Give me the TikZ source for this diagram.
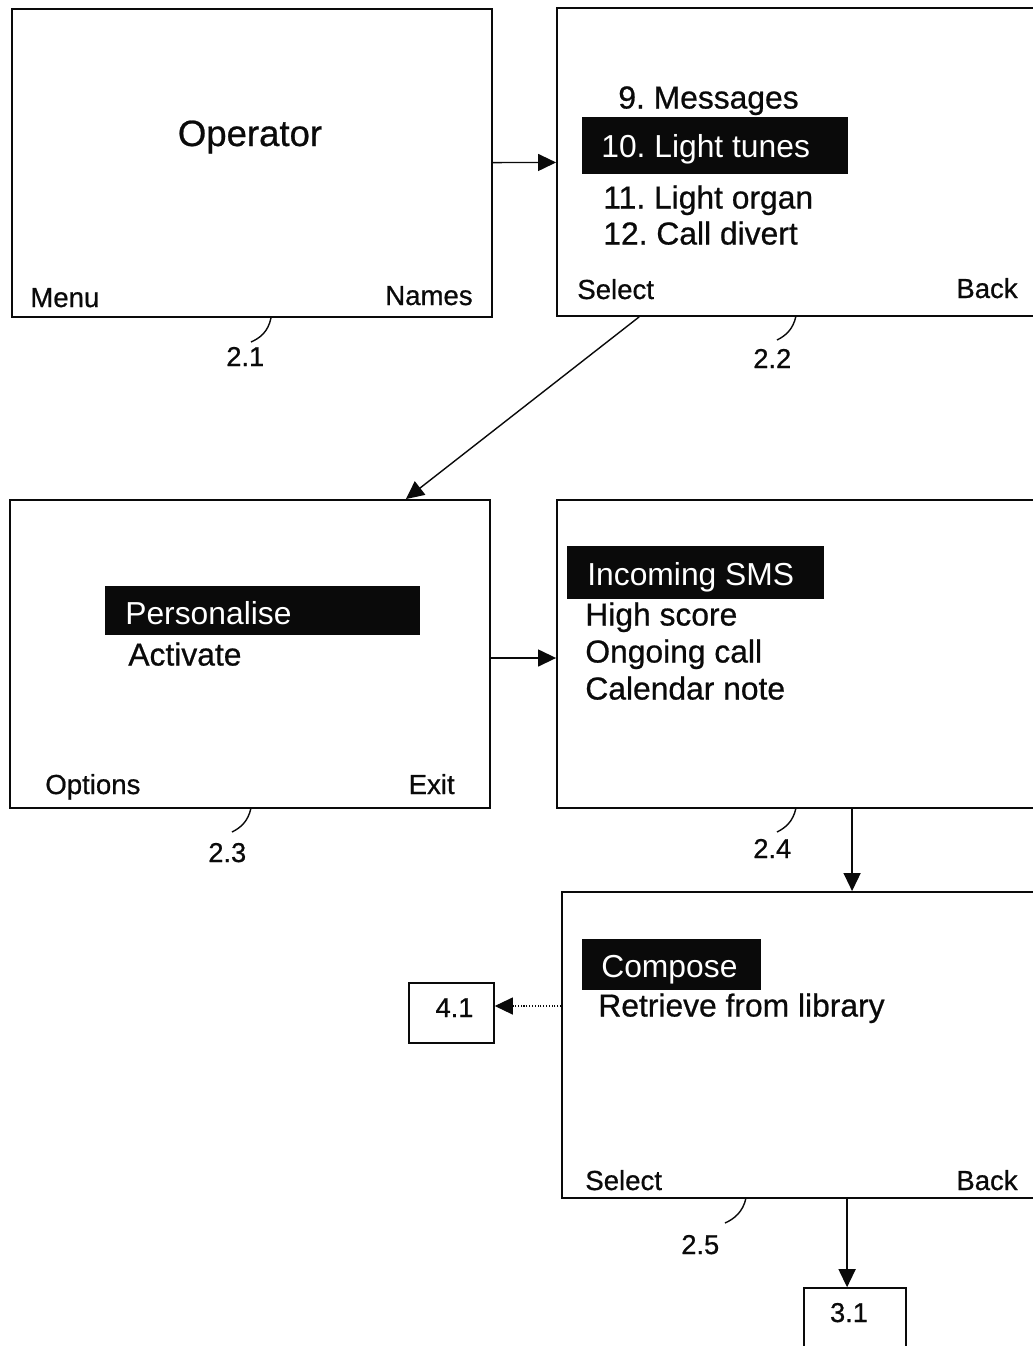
\documentclass[tikz,border=0pt]{standalone}
\usepackage{fontspec}
\setmainfont{Liberation Sans}
\newfontfamily\inkfont{Liberation Sans}[FakeBold=0.7]
\usetikzlibrary{arrows.meta,calc}
\definecolor{ink}{RGB}{10,10,10}

\tikzset{
  screen/.style={draw=ink,line width=1.1pt,minimum width=#1,minimum height=6.16cm,inner sep=0pt},
  tagbox/.style={draw=ink,line width=0.9pt,inner sep=0pt},
  arr/.style={-{Triangle[length=3.6mm,width=3.4mm]},draw=ink,line width=0.8pt},
  leader/.style={draw=ink,line width=0.8pt},
  menutxt/.style={anchor=base west,inner sep=0pt,text=ink,font=\inkfont\fontsize{18.1}{21}\selectfont},
  hitxt/.style={anchor=base west,inner sep=0pt,text=white,font=\fontsize{18.1}{21}\selectfont},
  softkey/.style={inner sep=0pt,text=ink,font=\inkfont\fontsize{15.7}{18}\selectfont},
  tag/.style={anchor=base west,inner sep=0pt,text=ink,font=\inkfont\fontsize{15.5}{18}\selectfont}
}

\begin{document}
\frenchspacing
\begin{tikzpicture}[x=0.02cm,y=-0.02cm]
  \useasboundingbox (0,0) rectangle (1032,1346);

  % --- phone screens ---
  \node[screen=9.6cm] (s21) at (252,163) {};
  \node[screen=9.76cm] (s22) at (801,162) {};
  \node[screen=9.6cm] (s23) at (250,654) {};
  \node[screen=9.76cm] (s24) at (801,654) {};
  \node[screen=9.66cm,minimum height=6.12cm] (s25) at (803.5,1045) {};

  % --- reference boxes ---
  \node[tagbox,minimum width=1.7cm,minimum height=1.2cm] (b41) at (451.5,1013) {};
  \node[tagbox,minimum width=2.04cm,minimum height=1.44cm] (b31) at (855,1324) {};

  % --- screen 2.1 ---
  \node[anchor=base,inner sep=0pt,text=ink,font=\inkfont\fontsize{20.8}{24}\selectfont] (op) at (250,146) {Operator};
  \node[softkey,anchor=base west] (menu) at (30,307) {Menu};
  \node[softkey,anchor=base east] (names) at (473,305) {Names};

  % --- screen 2.2 ---
  \fill[ink] (582,117) rectangle (848,174);
  \node[menutxt] (m9) at (618,108.5) {9. Messages};
  \node[hitxt] (m10) at (601,157.5) {10. Light tunes};
  \node[menutxt] (m11) at (603,208.5) {11. Light organ};
  \node[menutxt] (m12) at (603,244.5) {12. Call divert};
  \node[softkey,anchor=base west] (sel22) at (577,299) {Select};
  \node[softkey,anchor=base east] (back22) at (1018,298) {Back};

  % --- screen 2.3 ---
  \fill[ink] (105,586) rectangle (420,635);
  \node[hitxt] (pers) at (125,624.5) {Personalise};
  \node[menutxt] (act) at (128,665.5) {Activate};
  \node[softkey,anchor=base west] (opt) at (45,794) {Options};
  \node[softkey,anchor=base east] (exit) at (455,794) {Exit};

  % --- screen 2.4 ---
  \fill[ink] (567,546) rectangle (824,599);
  \node[hitxt] (sms) at (587,585.5) {Incoming SMS};
  \node[menutxt] (score) at (585,625.5) {High score};
  \node[menutxt] (ongo) at (585,662.5) {Ongoing call};
  \node[menutxt] (cal) at (585,699.5) {Calendar note};

  % --- screen 2.5 ---
  \fill[ink] (582,939) rectangle (761,990);
  \node[hitxt] (comp) at (601,977.5) {Compose};
  \node[menutxt] (retr) at (598,1016.5) {Retrieve from library};
  \node[softkey,anchor=base west] (sel25) at (585,1190) {Select};
  \node[softkey,anchor=base east] (back25) at (1018,1190) {Back};

  % --- box labels ---
  \node[anchor=base,inner sep=0pt,text=ink,font=\inkfont\fontsize{15.5}{18}\selectfont] (l41) at ($(b41)+(3,4)$) {4.1};
  \node[anchor=base,inner sep=0pt,text=ink,font=\inkfont\fontsize{15.5}{18}\selectfont] (l31) at ($(b31)+(-6,-2)$) {3.1};

  % --- screen tags with leaders ---
  \node[tag] (t21) at (226,366) {2.1};
  \node[tag] (t22) at (753,368) {2.2};
  \node[tag] (t23) at (208,862) {2.3};
  \node[tag] (t24) at (753,858) {2.4};
  \node[tag] (t25) at (681,1254) {2.5};
  \draw[leader] (271,318) .. controls (268,332) and (260,338) .. (251,342);
  \draw[leader] (796,316) .. controls (793,330) and (785,336) .. (777,340);
  \draw[leader] (251,808) .. controls (248,822) and (240,828) .. (232,832);
  \draw[leader] (796,808) .. controls (793,822) and (785,828) .. (777,832);
  \draw[leader] (746,1198) .. controls (743,1212) and (734,1219) .. (725,1223);

  % --- flow arrows ---
  \draw[arr] (s21) -- (s22);
  \draw[arr] ($(s22.south west)+(83,0)$) -- ($(s23.north east)+(-85,0)$);
  \draw[arr] ($(s23.east)+(0,4)$) -- ($(s24.west)+(0,4)$);
  \draw[arr] ($(s24.south west)+(296,0)$) coordinate (d24) -- (d24 |- s25.north);
  \draw[arr,line width=0.6pt,densely dotted] ($(s25.west |- b41.east)+(0,-7)$) -- ($(b41.east)+(0,-7)$);
  \draw[arr] ($(s25.south west)+(286,0)$) coordinate (d25) -- (d25 |- b31.north);
\end{tikzpicture}
\end{document}
